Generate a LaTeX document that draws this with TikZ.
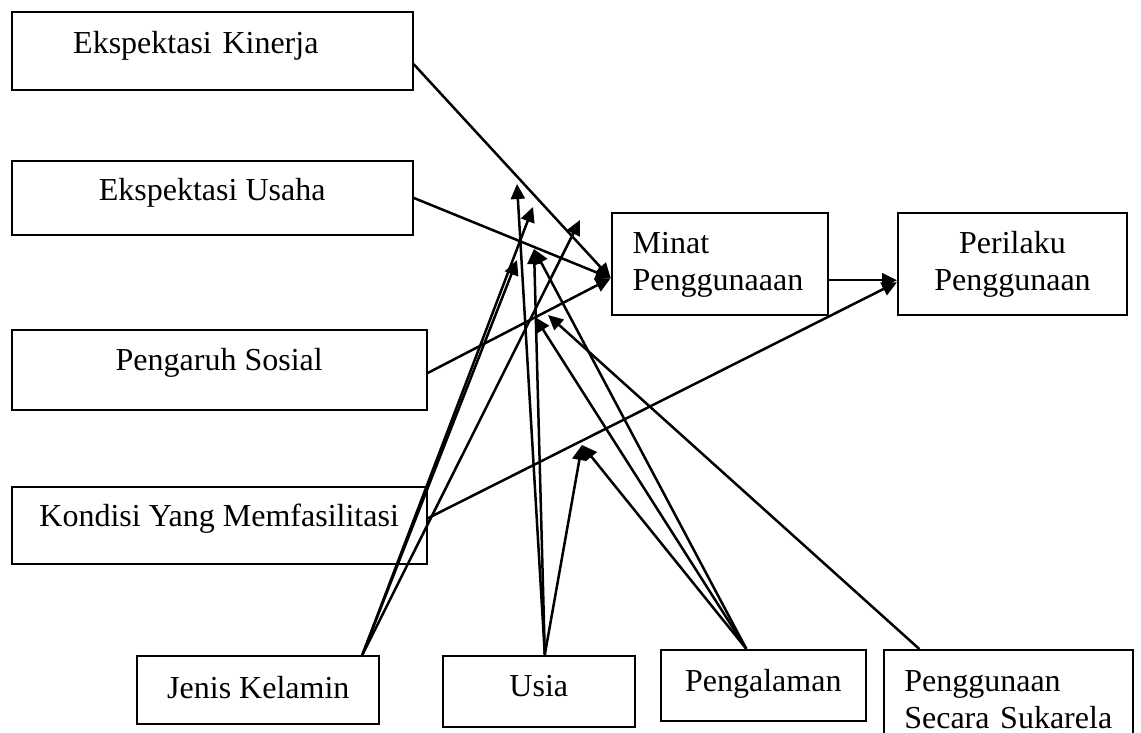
\documentclass[tikz,border=0pt]{standalone}
\usepackage{fontspec}
\setmainfont{Liberation Serif}
\usepackage{tikz}
\usetikzlibrary{positioning,arrows.meta}

\begin{document}
\begin{tikzpicture}[
    x=1pt,
    y=-1pt,
    box/.style={%
      draw,
      rectangle,
      line width=2pt,
      inner sep=0pt,
      font=\fontsize{32}{37}\selectfont,
      text height=22pt,
    },
    link/.style={%
      line width=2.5pt,
      -{Triangle[length=15pt,width=14pt]},
    },
  ]

    \useasboundingbox (0,0) rectangle (1141,733);

    \node [box, minimum width=401pt, minimum height=78pt, text width=278pt, inner xsep=61.5pt, align=left, text depth=18pt] (ek) at (212.2,51.2) {Ekspektasi Kinerja};
    \node [box, minimum width=401pt, minimum height=74pt, text depth=16pt] (eu) at (212.2,197.9) {Ekspektasi Usaha};
    \node [box, minimum width=415pt, minimum height=80pt, text depth=22pt] (ps) at (219.2,370) {Pengaruh Sosial};
    \node [box, minimum width=415pt, minimum height=77.5pt, text depth=19.4pt] (kym) at (219.2,525.3) {Kondisi Yang Memfasilitasi};
    \node [box, minimum width=216pt, minimum height=102pt, text width=174pt, inner xsep=21pt, align=left, text depth=44pt] (minat) at (719.7,264.2) {Minat\\Penggunaaan};
    \node [box, minimum width=229pt, minimum height=102pt, text width=209pt, inner xsep=10pt, align=center, text depth=44pt] (peri) at (1012.5,264.2) {Perilaku\\Penggunaan};
    \node [box, minimum width=242pt, minimum height=68pt, text depth=5.4pt] (jk) at (258.3,690) {Jenis Kelamin};
    \node [box, minimum width=192pt, minimum height=71pt, text depth=11.6pt] (usia) at (538.8,691.2) {Usia};
    \node [box, minimum width=205pt, minimum height=71pt, text depth=9.4pt] (peng) at (763.3,685.3) {Pengalaman};
    \node [box, minimum width=249pt, minimum height=110pt, text width=209pt, inner xsep=20pt, align=left, text depth=50pt] (pss) at (1008.8,705) {Penggunaan\\Secara Sukarela};

    \coordinate (u1) at (517,184);
    \coordinate (j1) at (533,207);
    \coordinate (j2) at (580,220);
    \coordinate (m1) at (534,249);
    \coordinate (j3) at (517,260);
    \coordinate (s1) at (548,315);
    \coordinate (p2) at (535,317);
    \coordinate (m2) at (582,445);

    \draw [link] ([yshift=-13pt]ek.east) -- ([yshift=-14pt]minat.west);
    \draw [link] (eu.east) -- ([yshift=-14pt]minat.west);
    \draw [link] ([yshift=-3pt]ps.east) -- ([yshift=-14pt]minat.west);
    \draw [link] ([yshift=7pt]kym.east) -- ([yshift=-18pt]peri.west);
    \draw [link] ([yshift=-16pt]minat.east) -- ([yshift=-16pt]peri.west);
    \draw [link] ([xshift=-18pt]jk.north east) -- (j1);
    \draw [link] ([xshift=-18pt]jk.north east) -- (j2);
    \draw [link] ([xshift=-18pt]jk.north east) -- (j3);
    \draw [link] ([xshift=6pt]usia.north) -- (u1);
    \draw [link] ([xshift=6pt]usia.north) -- (m1);
    \draw [link] ([xshift=6pt]usia.north) -- (m2);
    \draw [link] ([xshift=-17pt]peng.north) -- (m1);
    \draw [link] ([xshift=-17pt]peng.north) -- (p2);
    \draw [link] ([xshift=-17pt]peng.north) -- (m2);
    \draw [link] ([xshift=36pt]pss.north west) -- (s1);
\end{tikzpicture}
\end{document}
